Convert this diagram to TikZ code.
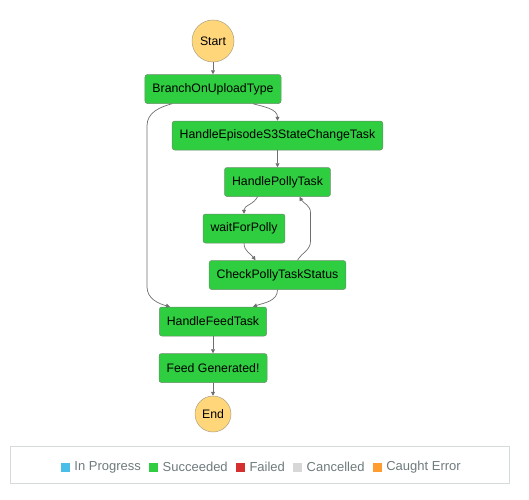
\documentclass[tikz,border=0pt]{standalone}
\usepackage{fontspec}
\setmainfont{Liberation Sans}
\usepackage{tikz}
\usetikzlibrary{arrows.meta,positioning}
\usepackage{xcolor}
\definecolor{okgreen}{RGB}{46,206,64}
\definecolor{okedge}{RGB}{110,140,110}
\definecolor{stateyellow}{RGB}{255,215,122}
\definecolor{stateedge}{RGB}{170,160,130}
\definecolor{flowgray}{RGB}{110,110,110}
\definecolor{legendtext}{RGB}{110,122,124}
\definecolor{legendbox}{RGB}{213,219,219}
\definecolor{inprogress}{RGB}{74,190,232}
\definecolor{failed}{RGB}{214,47,47}
\definecolor{cancelled}{RGB}{215,215,215}
\definecolor{caught}{RGB}{255,155,47}

\begin{document}
\begin{tikzpicture}[
				node distance=17bp,
				task/.style={draw=okedge,line width=0.5bp,fill=okgreen,rectangle,rounded corners=2.5bp,minimum height=29bp,inner xsep=7.5bp,font=\fontsize{12.3bp}{14bp}\selectfont},
				state/.style={draw=stateedge,line width=0.5bp,fill=stateyellow,circle,inner sep=0pt,font=\fontsize{12.3bp}{14bp}\selectfont},
				flow/.style={draw=flowgray,line width=0.7bp,-{Triangle[length=4bp,width=4bp]}},
				swatch/.style={rectangle,minimum size=9bp,inner sep=0pt},
				legend/.style={inner sep=0pt,text=legendtext,font=\fontsize{13bp}{15bp}\selectfont}
				]
				\useasboundingbox (0,0) rectangle (529bp,-500bp);
				
				\node[state,minimum size=42bp] (start) at (213bp,-41bp) {Start};
				\node[task,below=12bp of start] (branch) {BranchOnUploadType};
				\node[task,below=of branch,xshift=64.5bp] (episode) {HandleEpisodeS3StateChangeTask};
				\node[task,below=of episode] (polly) {HandlePollyTask};
				\node[task,below=of polly,xshift=-33.5bp] (wait) {waitForPolly};
				\node[task,below=of wait,xshift=33.5bp] (check) {CheckPollyTaskStatus};
				\node[task,below=of check,xshift=-64.5bp] (feed) {HandleFeedTask};
				\node[task,below=of feed] (generated) {Feed Generated!};
				\node[state,minimum size=36bp,below=13bp of generated] (end) {End};
				
				\draw[flow] (start) -- (branch);
				\draw[flow] ([xshift=40bp]branch.south) to[out=-15,in=90] (episode.north);
				\draw[flow] ([xshift=-41bp]branch.south) to[out=195,in=90] ([xshift=-66bp,yshift=-22bp]branch.south)
					-- ([xshift=-66bp,yshift=20bp]feed.north) to[out=-90,in=165] ([xshift=-43bp]feed.north);
				\draw[flow] (episode) -- (polly);
				\draw[flow] ([xshift=-20bp]polly.south) to[out=-115,in=90] (wait.north);
				\draw[flow] (wait.south) to[out=-90,in=125] ([xshift=-22bp]check.north);
				\draw[flow] ([xshift=20bp]check.north) to[out=60,in=-90] ([xshift=33bp,yshift=19bp]check.north)
					-- ([xshift=33bp,yshift=-16bp]polly.south) to[out=90,in=-60] ([xshift=22bp]polly.south);
				\draw[flow] (check.south) to[out=-90,in=20] ([xshift=40bp]feed.north);
				\draw[flow] (feed) -- (generated);
				\draw[flow] (generated) -- (end);
				
				% Legenda
				\node[draw=legendbox,line width=0.8bp,minimum width=499bp,minimum height=37bp] (key) at (259.5bp,-464.5bp) {};
				\node[swatch,fill=inprogress] (sqprog) at (65.5bp,-467bp) {};
				\node[legend,right=4bp of sqprog] (txprog) {In Progress};
				\node[swatch,fill=okgreen,right=8bp of txprog] (sqok) {};
				\node[legend,right=4bp of sqok] (txok) {Succeeded};
				\node[swatch,fill=failed,right=8bp of txok] (sqfail) {};
				\node[legend,right=4bp of sqfail] (txfail) {Failed};
				\node[swatch,fill=cancelled,right=8bp of txfail] (sqcancel) {};
				\node[legend,right=4bp of sqcancel] (txcancel) {Cancelled};
				\node[swatch,fill=caught,right=8bp of txcancel] (sqcaught) {};
				\node[legend,right=4bp of sqcaught] (txcaught) {Caught Error};
				
			\end{tikzpicture}
\end{document}
